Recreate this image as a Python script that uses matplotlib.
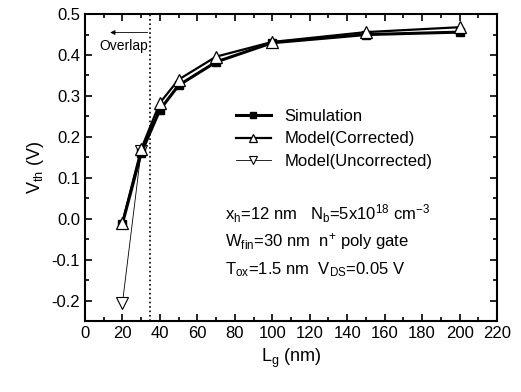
import numpy as np
import matplotlib
matplotlib.use("Agg")
from matplotlib import pyplot as plt
from matplotlib.ticker import MultipleLocator, FormatStrFormatter

plt.rcParams['font.family'] = ['Liberation Sans', 'DejaVu Sans']
plt.rcParams['mathtext.fontset'] = 'custom'
plt.rcParams['mathtext.rm'] = 'Liberation Sans'
plt.rcParams['mathtext.it'] = 'Liberation Sans'

# gate length (nm)
lg = [20, 30, 40, 50, 70, 100, 150, 200]
lg_uncorr = [20, 30]
# threshold voltage (V)
vth_sim = [-0.012, 0.160, 0.266, 0.326, 0.383, 0.430, 0.450, 0.456]
vth_corr = [-0.010, 0.170, 0.283, 0.340, 0.396, 0.432, 0.456, 0.468]
vth_uncorr = [-0.207, 0.165]

fig = plt.figure(figsize=(5.21, 3.92), dpi=100)
ax = fig.add_axes([0.163, 0.181, 0.791, 0.783])

ax.plot(lg_uncorr, vth_uncorr, color='black', lw=0.6, marker='v', ms=8,
        mfc='white', mec='black', mew=0.8, label='Model(Uncorrected)', zorder=2)
ax.plot(lg, vth_sim, color='black', lw=2.2, marker='s', ms=6,
        mfc='black', mec='black', label='Simulation', zorder=3)
ax.plot(lg, vth_corr, color='black', lw=1.6, marker='^', ms=8,
        mfc='white', mec='black', mew=0.9, label='Model(Corrected)', zorder=4)

# overlap region marker
ax.axvline(35, color='black', ls=':', lw=1.2)
ax.annotate('', xy=(12, 0.455), xytext=(35, 0.455),
            arrowprops=dict(arrowstyle='-|>', color='black', lw=0.6,
                            mutation_scale=7))
ax.text(33.5, 0.422, 'Overlap', ha='right', va='center', fontsize=10)

ax.set_xlim(0, 220)
ax.set_ylim(-0.25, 0.5)
ax.xaxis.set_major_locator(MultipleLocator(20))
ax.xaxis.set_minor_locator(MultipleLocator(10))
ax.yaxis.set_major_locator(MultipleLocator(0.1))
ax.yaxis.set_minor_locator(MultipleLocator(0.05))
ax.yaxis.set_major_formatter(FormatStrFormatter('%.1f'))
ax.tick_params(which='both', direction='in', top=True, right=True,
               labelsize=12, width=1.2)
ax.tick_params(which='major', length=5)
ax.tick_params(which='minor', length=3)
for s in ax.spines.values():
    s.set_linewidth(1.5)

ax.set_xlabel('L$_\\mathrm{g}$ (nm)', fontsize=13)
ax.set_ylabel('V$_\\mathrm{th}$ (V)', fontsize=13)

handles, labels = ax.get_legend_handles_labels()
order = [1, 2, 0]
ax.legend([handles[i] for i in order], [labels[i] for i in order],
          loc='upper left', bbox_to_anchor=(0.33, 0.74), frameon=False,
          fontsize=12, handlelength=2.1, labelspacing=0.45, markerscale=0.75)

ax.text(75, 0.012, 'x$_\\mathrm{h}$=12 nm   N$_\\mathrm{b}$=5x10$^{18}$ cm$^{-3}$',
        fontsize=12, va='center')
ax.text(75, -0.055, 'W$_\\mathrm{fin}$=30 nm  n$^{+}$ poly gate', fontsize=12, va='center')
ax.text(75, -0.125, 'T$_\\mathrm{ox}$=1.5 nm  V$_\\mathrm{DS}$=0.05 V', fontsize=12, va='center')

fig.savefig('out.png', dpi=100)
